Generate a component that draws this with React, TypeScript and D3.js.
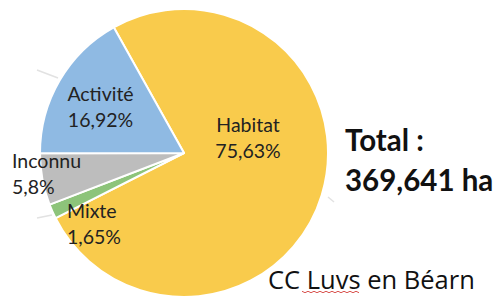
import * as d3 from "d3";
import { useEffect, useRef } from "react";

// share of the artificialised area by use
const categories = ["Habitat", "Mixte", "Inconnu", "Activité"];
const values = [75.63, 1.65, 5.8, 16.92];
const valueLabels = ["75,63%", "1,65%", "5,8%", "16,92%"];
const colors = ["#F9CB4C", "#8DC47A", "#BDBDBD", "#8FBAE3"];

// label anchors (text, not marks)
const labelPos = [
  { x: 248, y: 132, anchor: "middle" },
  { x: 67, y: 218, anchor: "start" },
  { x: 12, y: 168, anchor: "start" },
  { x: 100.5, y: 100.5, anchor: "middle" },
];

const totalLines = ["Total :", "369,641 ha"];
const footer = "CC Luvs en Béarn";

const App = () => {
  const ref = useRef<SVGSVGElement>(null);

  useEffect(() => {
    const svg = d3.select(ref.current);
    svg.selectAll("*").remove();

    const width = 496,
      height = 297;
    const cx = 184,
      cy = 153,
      radius = 144;

    svg.append("rect").attr("width", width).attr("height", height).attr("fill", "#fff");

    const startAngle = (-29.2 * Math.PI) / 180;
    const pie = d3
      .pie<number>()
      .sort(null)
      .startAngle(startAngle)
      .endAngle(startAngle + 2 * Math.PI);
    const arcs = pie(values);
    const arc = d3.arc<d3.PieArcDatum<number>>().innerRadius(0).outerRadius(radius);

    const g = svg.append("g").attr("transform", `translate(${cx},${cy})`);

    // faint leader lines behind the pie
    const leader = d3.line();
    const faint = [
      [[-147, -83], [-126, -75]],
      [[-147, 65], [-132, 62]],
      [[144, 44], [150, 49]],
    ] as [number, number][][];
    g.selectAll("path.leader")
      .data(faint)
      .join("path")
      .attr("class", "leader")
      .attr("d", (d) => leader(d))
      .attr("stroke", "#e2e2e2")
      .attr("stroke-width", 1.5)
      .attr("fill", "none");

    g.selectAll("path.slice")
      .data(arcs)
      .join("path")
      .attr("class", "slice")
      .attr("d", arc)
      .attr("fill", (_, i) => colors[i])
      .attr("stroke", "#fff")
      .attr("stroke-width", 2)
      .attr("stroke-linejoin", "round");

    const font = "Lato, 'Open Sans', sans-serif";

    const labels = svg
      .selectAll("text.lbl")
      .data(categories)
      .join("text")
      .attr("class", "lbl")
      .attr("x", (_, i) => labelPos[i].x)
      .attr("y", (_, i) => labelPos[i].y)
      .attr("text-anchor", (_, i) => labelPos[i].anchor)
      .attr("font-family", font)
      .attr("font-size", 19.5)
      .attr("fill", "#222");
    labels.append("tspan").text((d) => d);
    labels
      .append("tspan")
      .attr("x", (_, i) => labelPos[i].x)
      .attr("dy", 26)
      .text((_, i) => valueLabels[i]);

    svg
      .selectAll("text.total")
      .data(totalLines)
      .join("text")
      .attr("class", "total")
      .attr("x", 345)
      .attr("y", (_, i) => 151 + i * 40)
      .attr("font-family", font)
      .attr("font-weight", 700)
      .attr("font-size", 29.5)
      .attr("fill", "#111")
      .text((d) => d);

    svg
      .append("text")
      .attr("x", 268)
      .attr("y", 289)
      .attr("font-family", "'Open Sans', sans-serif")
      .attr("font-size", 25.5)
      .attr("fill", "#111")
      .text(footer);

    // spell-check squiggle under "Luvs"
    const squiggle = d3.range(0, 58, 3).map((t, i) => [302 + t, 291.5 + (i % 2 ? 1.2 : -0.2)] as [number, number]);
    svg
      .append("path")
      .attr("d", d3.line()(squiggle))
      .attr("stroke", "#d9534f")
      .attr("stroke-width", 1)
      .attr("fill", "none");
  }, []);

  return (
    <svg
      ref={ref}
      width={496}
      height={297}
      style={{ position: "absolute", left: 0, top: 0, display: "block" }}
    />
  );
};

export default App;
